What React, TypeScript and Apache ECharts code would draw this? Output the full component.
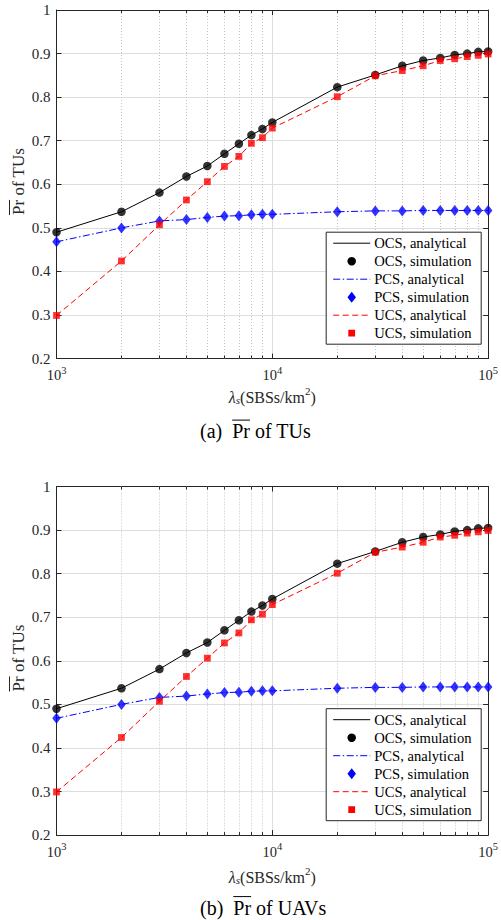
import React, { useEffect, useRef } from "react";
import * as echarts from "echarts";

// ---------- data ----------
const lambdaS = [1000, 2000, 3000, 4000, 5000, 6000, 7000, 8000, 9000, 10000, 20000, 30000, 40000, 50000, 60000, 70000, 80000, 90000, 100000];
const ocsValues = [0.490, 0.537, 0.581, 0.618, 0.642, 0.670, 0.693, 0.713, 0.727, 0.742, 0.823, 0.851, 0.872, 0.884, 0.890, 0.897, 0.900, 0.904, 0.905];
const pcsValues = [0.468, 0.500, 0.516, 0.519, 0.524, 0.527, 0.528, 0.530, 0.531, 0.531, 0.537, 0.539, 0.539, 0.540, 0.540, 0.540, 0.540, 0.540, 0.540];
const ucsValues = [0.299, 0.424, 0.507, 0.564, 0.606, 0.641, 0.664, 0.694, 0.707, 0.729, 0.801, 0.849, 0.861, 0.872, 0.884, 0.888, 0.893, 0.896, 0.899];
const minorXTicks = [2000, 3000, 4000, 5000, 6000, 7000, 8000, 9000, 20000, 30000, 40000, 50000, 60000, 70000, 80000, 90000];
const panelTags = ["(a)", "(b)"];
const panelSubjects = ["TUs", "UAVs"];
const yAxisSubject = "TUs";
const legendNames = ["OCS, analytical", "OCS, simulation", "PCS, analytical", "PCS, simulation", "UCS, analytical", "UCS, simulation"];

// ---------- style / layout ----------
const FONT = '"Liberation Serif", "Times New Roman", serif';
const AX = "#262626";
const GRID_MAJOR = "#dedede";
const GRID_MINOR = "#c4c4c4";
const GL = 56.5;
const GW = 435.2;
const GH = 348.6;
const GT = [10, 486.5];
const NAME_GAP = [26.5, 30];
const Y_MIN = 0.2;
const Y_MAX = 1;
const LZ = 100;

const measure = (() => {
  let ctx: CanvasRenderingContext2D | null = null;
  return (text: string, size: number) => {
    if (!ctx) ctx = document.createElement("canvas").getContext("2d");
    if (!ctx) return text.length * size * 0.45;
    ctx.font = `${size}px ${FONT}`;
    return ctx.measureText(text).width;
  };
})();

const seriesDefs = [
  { name: legendNames[0], kind: "line", values: ocsValues, color: "#000000", dash: "solid" as any },
  { name: legendNames[1], kind: "scatter", values: ocsValues, color: "#000000", symbol: "circle", size: 8.5 as any },
  { name: legendNames[2], kind: "line", values: pcsValues, color: "#0000ff", dash: [7, 2.5, 1.5, 2.5] },
  { name: legendNames[3], kind: "scatter", values: pcsValues, color: "#0000ff", symbol: "diamond", size: [8.5, 11] },
  { name: legendNames[4], kind: "line", values: ucsValues, color: "#ff0000", dash: [6, 3.5] },
  { name: legendNames[5], kind: "scatter", values: ucsValues, color: "#ff0000", symbol: "rect", size: 6.8 },
];

function legendGraphic(p: number) {
  const LX = GL + GW - 165.5;
  const LY = GT[p] + GH - 126.4;
  const children: any[] = [
    { type: "rect", z: LZ, shape: { x: 0, y: 0, width: 155, height: 112 }, style: { fill: "#fff", stroke: AX, lineWidth: 1 } },
  ];
  seriesDefs.forEach((d, i) => {
    const cy = 11 + 18 * i;
    const cx = 25.5;
    if (d.kind === "line") {
      children.push({
        type: "line",
        z: LZ + 1,
        shape: { x1: 7, y1: cy, x2: 44, y2: cy },
        style: { stroke: d.color, lineWidth: 1, lineDash: d.dash === "solid" ? null : d.dash },
      });
    } else if (d.symbol === "circle") {
      children.push({ type: "circle", z: LZ + 1, shape: { cx, cy, r: 4.25 }, style: { fill: d.color } });
    } else if (d.symbol === "diamond") {
      children.push({
        type: "polygon",
        z: LZ + 1,
        shape: { points: [[cx, cy - 5.5], [cx + 4.25, cy], [cx, cy + 5.5], [cx - 4.25, cy]] },
        style: { fill: d.color },
      });
    } else {
      children.push({ type: "rect", z: LZ + 1, shape: { x: cx - 3.4, y: cy - 3.4, width: 6.8, height: 6.8 }, style: { fill: d.color } });
    }
    children.push({
      type: "text",
      z: LZ + 1,
      x: 48,
      y: cy,
      style: { text: d.name, fontFamily: FONT, fontSize: 14.6, fill: "#000", align: "left", verticalAlign: "middle" },
    });
  });
  return { type: "group", x: LX, y: LY, z: LZ, children };
}

function yLabelGraphic(p: number) {
  const size = 17;
  const text = `Pr of ${yAxisSubject}`;
  const w = measure(text, size);
  const wPr = measure("Pr", size);
  return {
    type: "group",
    x: 18,
    y: GT[p] + 171.5,
    rotation: Math.PI / 2,
    children: [
      { type: "text", x: 0, y: 0, style: { text, fontFamily: FONT, fontSize: size, fill: AX, align: "center", verticalAlign: "middle" } },
      { type: "line", shape: { x1: -w / 2, y1: -8.5, x2: -w / 2 + wPr, y2: -8.5 }, style: { stroke: AX, lineWidth: 1 } },
    ],
  };
}

function captionGraphic(p: number) {
  const size = 20;
  const pre = `${panelTags[p]}  `;
  const text = `${pre}Pr of ${panelSubjects[p]}`;
  const x0 = measure(pre, size);
  const wPr = measure("Pr", size);
  return {
    type: "group",
    x: 200,
    y: GT[p] + GH + 72.5,
    children: [
      { type: "text", x: 0, y: 0, style: { text, fontFamily: FONT, fontSize: size, fill: "#000", align: "left", verticalAlign: "middle" } },
      { type: "line", shape: { x1: x0, y1: -11, x2: x0 + wPr, y2: -11 }, style: { stroke: "#000", lineWidth: 1 } },
    ],
  };
}

function buildOption() {
  const grid: any[] = [];
  const xAxis: any[] = [];
  const yAxis: any[] = [];
  const series: any[] = [];
  const graphic: any[] = [];

  [0, 1].forEach((p) => {
    grid.push({ left: GL, top: GT[p], width: GW, height: GH, containLabel: false });
    xAxis.push({
      type: "log",
      logBase: 10,
      min: 1000,
      max: 100000,
      gridIndex: p,
      position: "bottom",
      axisLine: { show: true, lineStyle: { color: AX, width: 1 } },
      axisTick: { show: true, inside: true, length: 5, lineStyle: { color: AX } },
      axisLabel: {
        margin: 6,
        formatter: (v: number) => `{b|10}{s|${Math.round(Math.log10(v))}}`,
        rich: {
          b: { fontFamily: FONT, fontSize: 14.5, color: AX, verticalAlign: "bottom", lineHeight: 18, padding: [5, 0, 0, 0] },
          s: { fontFamily: FONT, fontSize: 10.5, color: AX, verticalAlign: "top", lineHeight: 11 },
        },
      },
      splitLine: { show: true, lineStyle: { color: GRID_MAJOR, width: 1 } },
      name: "{l|λ}{sub|s}{n|(SBSs/km}{sup|2}{n|)}",
      nameLocation: "middle",
      nameGap: NAME_GAP[p],
      nameTextStyle: {
        rich: {
          l: { fontFamily: FONT, fontSize: 16, fontStyle: "italic", color: AX, verticalAlign: "bottom", lineHeight: 20 },
          sub: { fontFamily: FONT, fontSize: 11, fontStyle: "italic", color: AX, verticalAlign: "bottom", lineHeight: 14 },
          n: { fontFamily: FONT, fontSize: 16, color: AX, verticalAlign: "bottom", lineHeight: 20 },
          sup: { fontFamily: FONT, fontSize: 11, color: AX, verticalAlign: "top", lineHeight: 11 },
        },
      },
    });
    xAxis.push({
      type: "log",
      logBase: 10,
      min: 1000,
      max: 100000,
      gridIndex: p,
      position: "top",
      axisLine: { show: true, lineStyle: { color: AX, width: 1 } },
      axisTick: { show: true, inside: true, length: 5, lineStyle: { color: AX } },
      axisLabel: { show: false },
      splitLine: { show: false },
    });
    yAxis.push({
      type: "value",
      min: Y_MIN,
      max: Y_MAX,
      interval: 0.1,
      gridIndex: p,
      position: "left",
      axisLine: { show: true, lineStyle: { color: AX, width: 1 } },
      axisTick: { show: true, inside: true, length: 5, lineStyle: { color: AX } },
      axisLabel: {
        margin: 6,
        fontFamily: FONT,
        fontSize: 15,
        color: AX,
        formatter: (v: number) => String(Math.round(v * 10) / 10),
      },
      splitLine: { show: true, lineStyle: { color: GRID_MAJOR, width: 1 } },
    });
    yAxis.push({
      type: "value",
      min: Y_MIN,
      max: Y_MAX,
      interval: 0.1,
      gridIndex: p,
      position: "right",
      axisLine: { show: true, lineStyle: { color: AX, width: 1 } },
      axisTick: { show: true, inside: true, length: 5, lineStyle: { color: AX } },
      axisLabel: { show: false },
      splitLine: { show: false },
    });

    // minor (dotted) log grid + minor ticks
    series.push({
      type: "custom",
      xAxisIndex: 2 * p,
      yAxisIndex: 2 * p,
      silent: true,
      z: 1,
      data: minorXTicks.map((x) => [x, 0.6]),
      encode: { x: 0, y: 1 },
      renderItem: (_params: any, api: any) => {
        const x = api.value(0);
        const top = api.coord([x, Y_MAX]);
        const bot = api.coord([x, Y_MIN]);
        const px = Math.round(top[0]) + 0.5;
        return {
          type: "group",
          children: [
            { type: "line", shape: { x1: px, y1: top[1], x2: px, y2: bot[1] }, style: { stroke: GRID_MINOR, lineWidth: 1, lineDash: [1, 2] } },
            { type: "line", shape: { x1: px, y1: bot[1], x2: px, y2: bot[1] - 3 }, style: { stroke: AX, lineWidth: 1 } },
            { type: "line", shape: { x1: px, y1: top[1], x2: px, y2: top[1] + 3 }, style: { stroke: AX, lineWidth: 1 } },
          ],
        };
      },
    });

    seriesDefs.forEach((d, i) => {
      const data = lambdaS.map((x, k) => [x, d.values[k]]);
      if (d.kind === "line") {
        series.push({
          type: "line",
          name: d.name,
          xAxisIndex: 2 * p,
          yAxisIndex: 2 * p,
          data,
          symbol: "none",
          silent: true,
          z: 3 + i,
          lineStyle: { color: d.color, width: 1, type: d.dash },
        });
      } else {
        series.push({
          type: "scatter",
          name: d.name,
          xAxisIndex: 2 * p,
          yAxisIndex: 2 * p,
          data,
          symbol: d.symbol,
          symbolSize: d.size,
          silent: true,
          z: 3 + i,
          itemStyle: { color: d.color },
        });
      }
    });

    graphic.push(legendGraphic(p));
    graphic.push(yLabelGraphic(p));
    graphic.push(captionGraphic(p));
  });

  return {
    animation: false,
    backgroundColor: "#ffffff",
    textStyle: { fontFamily: FONT },
    grid,
    xAxis,
    yAxis,
    series,
    graphic,
  };
}

export default function App() {
  const ref = useRef<HTMLDivElement>(null);
  useEffect(() => {
    if (!ref.current) return;
    const chart = echarts.init(ref.current, undefined, { renderer: "svg" });
    chart.setOption(buildOption() as any);
    return () => chart.dispose();
  }, []);
  return (
    <div
      ref={ref}
      style={{ position: "absolute", left: 0, top: 0, width: 501, height: 920, background: "#fff" }}
    />
  );
}
